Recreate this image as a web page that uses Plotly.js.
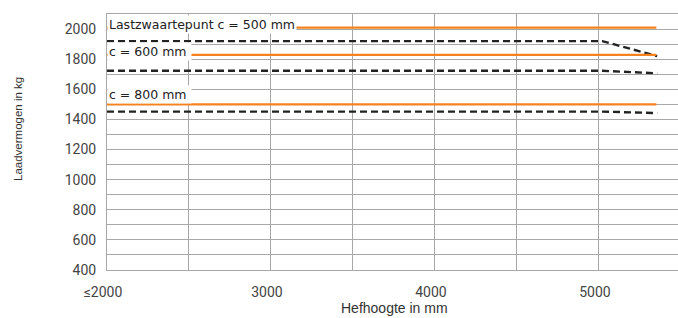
<!DOCTYPE html>
<html>
<head>
<meta charset="utf-8">
<script src="https://cdn.plot.ly/plotly-3.0.1.min.js"></script>
<style>
html,body{margin:0;padding:0;background:#fff;overflow:hidden;}
#chart{width:678px;height:318px;}
</style>
</head>
<body>
<div id="chart"></div>
<script>
// Data
const xTickVals = [2000, 2500, 3000, 3500, 4000, 4500, 5000];
const xTickText = ["≤2000", "", "3000", "", "4000", "", "5000"];
const yTickVals = [400,500,600,700,800,900,1000,1100,1200,1300,1400,1500,1600,1700,1800,1900,2000,2100];
const yTickText = ["400","","600","","800","","1000","","1200","","1400","","1600","","1800","","2000",""];

const hoogteOranje = [2000, 5350];
const oranje500 = [2010, 2010];
const oranje600 = [1828, 1828];
const oranje800 = [1500, 1500];

const hoogteStreep = [2000, 5020, 5355];
const streep500 = [1920, 1920, 1820];
const streep600 = [1723, 1723, 1706];
const streep800 = [1452, 1452, 1442];

const labels = ["Lastzwaartepunt c = 500 mm", "c = 600 mm ", "c = 800 mm "];
const labelY = [2027, 1853, 1563];

const orange = '#f5821f';
const dark = '#222222';
const grid = '#a8a8a8';

const traces = [
  {x: hoogteStreep, y: streep500, mode: 'lines', line: {color: dark, width: 2.4, dash: '7px,4px'}},
  {x: hoogteStreep, y: streep600, mode: 'lines', line: {color: dark, width: 2.4, dash: '7px,4px'}},
  {x: hoogteStreep, y: streep800, mode: 'lines', line: {color: dark, width: 2.4, dash: '7px,4px'}},
  {x: hoogteOranje, y: oranje500, mode: 'lines', line: {color: orange, width: 2.2}},
  {x: hoogteOranje, y: oranje600, mode: 'lines', line: {color: orange, width: 2.2}},
  {x: hoogteOranje, y: oranje800, mode: 'lines', line: {color: orange, width: 2.2}}
];

const L = 107, R = 0, T = 14, B = 48, W = 678, H = 318;
const pw = W - L - R, ph = H - T - B;

const annotations = labels.map((t, i) => ({
  x: 2000, y: labelY[i], xref: 'x', yref: 'y', xanchor: 'left', yanchor: 'middle',
  text: t, showarrow: false, bgcolor: '#ffffff', borderpad: 1,
  font: {family: 'DejaVu Sans', size: 12.5, color: '#222'}
}));
annotations.push({
  xref: 'paper', yref: 'paper', x: (18 - L) / pw, y: (H - B - 129) / ph,
  xanchor: 'center', yanchor: 'middle',
  text: 'Laadvermogen in kg', showarrow: false, textangle: -90,
  font: {family: 'Liberation Sans', size: 11.5, color: '#333'}
});
annotations.push({
  xref: 'paper', yref: 'paper', x: (394 - L) / pw, y: (H - B - 308) / ph, xanchor: 'center', yanchor: 'middle',
  text: 'Hefhoogte in mm', showarrow: false,
  font: {family: 'Liberation Sans', size: 14, color: '#333'}
});

const layout = {
  width: W, height: H,
  margin: {l: L, r: R, t: T, b: B, pad: 0},
  paper_bgcolor: '#fff', plot_bgcolor: '#fff',
  showlegend: false,
  xaxis: {
    range: [2000, 5482], tickmode: 'array', tickvals: xTickVals, ticktext: xTickText,
    showgrid: true, gridcolor: grid, gridwidth: 1, zeroline: false,
    showline: true, linecolor: grid, linewidth: 1, mirror: true,
    ticks: '', ticklabelstandoff: 9, ticklabelshift: -4,
    tickfont: {family: 'Roboto', size: 14, color: '#444'}
  },
  yaxis: {
    range: [400, 2100], tickmode: 'array', tickvals: yTickVals, ticktext: yTickText,
    showgrid: true, gridcolor: grid, gridwidth: 1, zeroline: false,
    showline: true, linecolor: grid, linewidth: 1,
    ticks: '', ticklabelstandoff: 7,
    tickfont: {family: 'Roboto', size: 14, color: '#444'}
  },
  annotations: annotations
};

Plotly.newPlot('chart', traces, layout, {staticPlot: true, displayModeBar: false});
</script>
</body>
</html>
